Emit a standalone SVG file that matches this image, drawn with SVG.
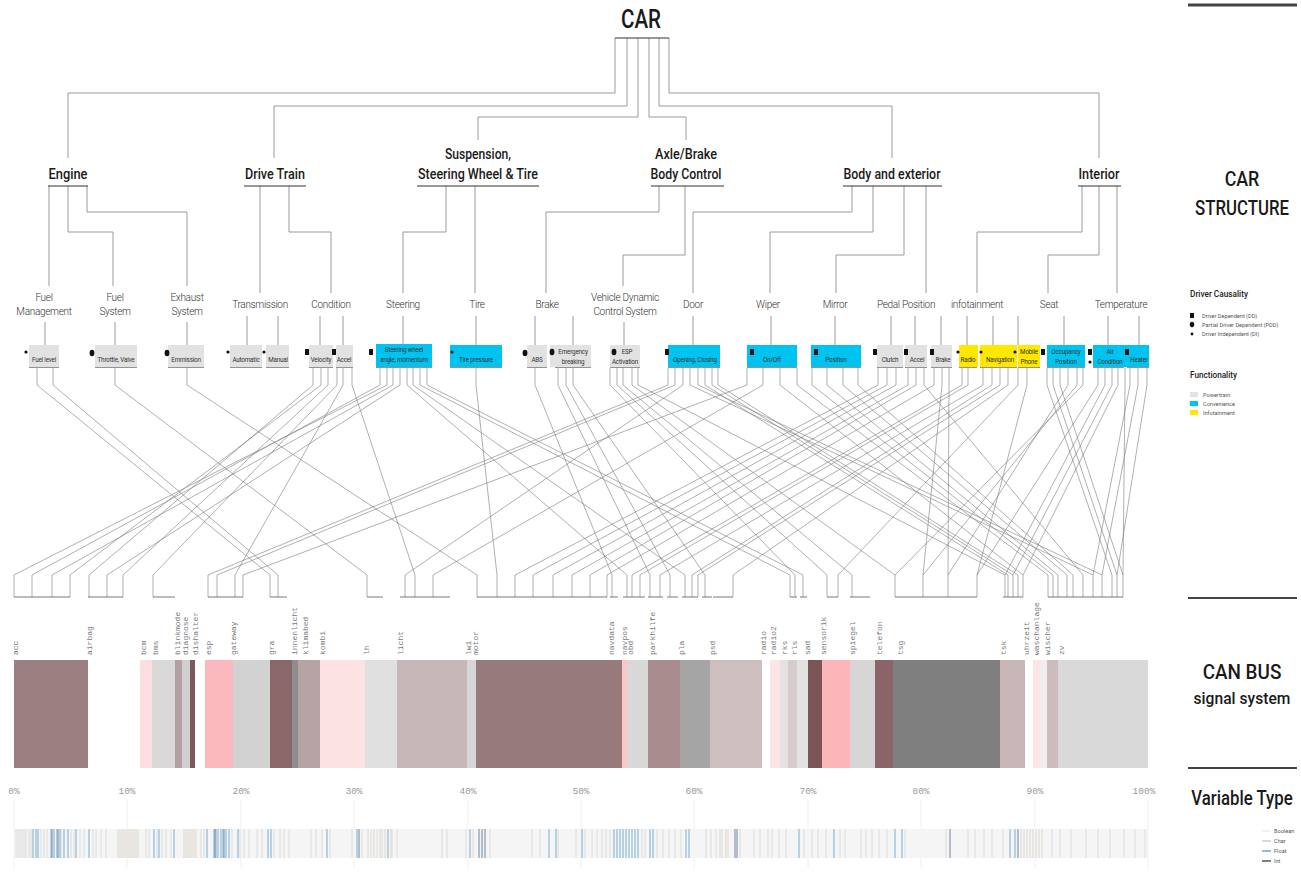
<svg xmlns="http://www.w3.org/2000/svg" width="1301" height="872" viewBox="0 0 1301 872">
<style>
.h{font-family:"Roboto","Liberation Sans",sans-serif;font-weight:500;fill:#1a1a1a;text-anchor:middle}
.l2{font-family:"Roboto","Liberation Sans",sans-serif;font-weight:300;font-size:10px;fill:#333;text-anchor:middle;letter-spacing:-0.3px}
.bt{font-family:"Roboto","Liberation Sans",sans-serif;font-size:6.3px;fill:#333;text-anchor:middle;letter-spacing:-0.2px}
.tree{fill:none;stroke:#9a9a9a;stroke-width:1}
.ul{stroke:#333;stroke-width:1}
.bul{stroke:#777;stroke-width:0.8}
.sp{fill:none;stroke:#7a7a7a;stroke-width:0.6}
.br{fill:none;stroke:#555;stroke-width:0.8}
.can{font-family:"Liberation Mono",monospace;font-size:8px;fill:#777}
.pct{font-family:"Liberation Mono",monospace;font-size:9.5px;fill:#9a9a9a;text-anchor:middle}
.lg{font-family:"Roboto","Liberation Sans",sans-serif;font-size:5.6px;fill:#555}
.lgt{font-family:"Roboto","Liberation Sans",sans-serif;font-weight:500;font-size:9px;fill:#222}
.pw{fill:#e2e2e2}.cv{fill:#00c4ef}.inf{fill:#ffe800}
.dk{fill:#111}
</style>

<!-- Top tree connectors -->
<g id="connectors-tree" class="tree">
<path d="M615 38 V93 H68 V158"/>
<path d="M627 38 V106 H274 V158"/>
<path d="M638 38 V117 H478 V140"/>
<path d="M649 38 V117 H686 V140"/>
<path d="M659 38 V106 H892 V158"/>
<path d="M669 38 V93 H1099 V158"/>
<path d="M49 186 V286"/>
<path d="M68 186 V232 H113 V286"/>
<path d="M87 186 V212 H187 V286"/>
<path d="M260 186 V293"/>
<path d="M289 186 V232 H331 V293"/>
<path d="M446 186 V232 H403 V293"/>
<path d="M475 186 V293"/>
<path d="M659 186 V212 H546 V293"/>
<path d="M685 186 V255 H623 V286"/>
<path d="M852 186 V212 H693 V293"/>
<path d="M873 186 V232 H770 V293"/>
<path d="M904 186 V255 H836 V293"/>
<path d="M926 186 V293"/>
<path d="M1082 186 V232 H977 V293"/>
<path d="M1099 186 V255 H1048 V293"/>
<path d="M1117 186 V293"/>
<path d="M45 322 V345 M115 322 V345 M187 322 V345 M247 316 V345 M278 316 V345 M320 316 V345 M343 316 V345 M403 316 V345 M476 316 V345 M535 316 V345 M573 316 V345 M624 322 V345 M693 316 V345 M771 316 V345 M835 316 V345 M891 316 V345 M915 316 V345 M941 316 V345 M967 316 V345 M993 316 V345 M1018 316 V345 M1064 316 V345 M1108 316 V345 M1139 316 V345"/>
</g>

<!-- Title -->
<g id="n-car">
<text class="h" x="641" y="28" font-size="26" textLength="40" lengthAdjust="spacingAndGlyphs">CAR</text>
<line class="ul" x1="615" y1="38" x2="669" y2="38"/>
</g>

<!-- Level 1 -->
<g id="n-engine"><text class="h" x="68" y="179" font-size="14" textLength="39" lengthAdjust="spacingAndGlyphs">Engine</text><line class="ul" x1="48" y1="186" x2="88" y2="186"/></g>
<g id="n-drivetrain"><text class="h" x="275" y="179" font-size="14" textLength="60" lengthAdjust="spacingAndGlyphs">Drive Train</text><line class="ul" x1="244" y1="186" x2="306" y2="186"/></g>
<g id="n-suspension"><text class="h" x="478" y="159" font-size="14" textLength="66" lengthAdjust="spacingAndGlyphs">Suspension,</text><text class="h" x="478" y="179" font-size="14" textLength="120" lengthAdjust="spacingAndGlyphs">Steering Wheel &amp; Tire</text><line class="ul" x1="417" y1="186" x2="539" y2="186"/></g>
<g id="n-axle"><text class="h" x="686" y="159" font-size="14" textLength="62" lengthAdjust="spacingAndGlyphs">Axle/Brake</text><text class="h" x="686" y="179" font-size="14" textLength="71" lengthAdjust="spacingAndGlyphs">Body Control</text><line class="ul" x1="651" y1="186" x2="724" y2="186"/></g>
<g id="n-body"><text class="h" x="892" y="179" font-size="14" textLength="97" lengthAdjust="spacingAndGlyphs">Body and exterior</text><line class="ul" x1="843" y1="186" x2="942" y2="186"/></g>
<g id="n-interior"><text class="h" x="1099" y="179" font-size="14" textLength="41" lengthAdjust="spacingAndGlyphs">Interior</text><line class="ul" x1="1078" y1="186" x2="1121" y2="186"/></g>

<!-- Level 2 -->
<g id="n-fuelmgmt"><text class="l2" x="44" y="301">Fuel</text><text class="l2" x="44" y="315">Management</text></g>
<g id="n-fuelsys"><text class="l2" x="115" y="301">Fuel</text><text class="l2" x="115" y="315">System</text></g>
<g id="n-exhaust"><text class="l2" x="187" y="301">Exhaust</text><text class="l2" x="187" y="315">System</text></g>
<g id="n-transmission"><text class="l2" x="260" y="308">Transmission</text></g>
<g id="n-condition"><text class="l2" x="331" y="308">Condition</text></g>
<g id="n-steering"><text class="l2" x="403" y="308">Steering</text></g>
<g id="n-tire"><text class="l2" x="477" y="308">Tire</text></g>
<g id="n-brake"><text class="l2" x="547" y="308">Brake</text></g>
<g id="n-vdcs"><text class="l2" x="625" y="301">Vehicle Dynamic</text><text class="l2" x="625" y="315">Control System</text></g>
<g id="n-door"><text class="l2" x="693" y="308">Door</text></g>
<g id="n-wiper"><text class="l2" x="768" y="308">Wiper</text></g>
<g id="n-mirror"><text class="l2" x="835" y="308">Mirror</text></g>
<g id="n-pedal"><text class="l2" x="906" y="308">Pedal Position</text></g>
<g id="n-infotainment"><text class="l2" x="977" y="308">infotainment</text></g>
<g id="n-seat"><text class="l2" x="1049" y="308">Seat</text></g>
<g id="n-temperature"><text class="l2" x="1121" y="308">Temperature</text></g>

<!-- Level 3 boxes -->
<g id="b-fuellevel"><rect class="pw" x="29" y="345" width="30" height="22"/><line class="bul" x1="29" y1="367.5" x2="59" y2="367.5"/><circle class="dk" cx="26" cy="352" r="1.6"/><text class="bt" x="44" y="362">Fuel level</text></g>
<g id="b-throttle"><rect class="pw" x="95" y="345" width="42" height="22"/><line class="bul" x1="95" y1="367.5" x2="137" y2="367.5"/><ellipse class="dk" cx="92" cy="353" rx="2.4" ry="3.2"/><text class="bt" x="116" y="362">Throttle, Valve</text></g>
<g id="b-emmission"><rect class="pw" x="168" y="345" width="36" height="22"/><line class="bul" x1="168" y1="367.5" x2="204" y2="367.5"/><ellipse class="dk" cx="167" cy="353" rx="2.4" ry="3.2"/><text class="bt" x="186" y="362">Emmission</text></g>
<g id="b-automatic"><rect class="pw" x="230" y="345" width="32" height="22"/><line class="bul" x1="230" y1="367.5" x2="262" y2="367.5"/><circle class="dk" cx="228" cy="352" r="1.6"/><text class="bt" x="246" y="362">Automatic</text></g>
<g id="b-manual"><rect class="pw" x="266" y="345" width="23" height="22"/><line class="bul" x1="266" y1="367.5" x2="289" y2="367.5"/><circle class="dk" cx="264" cy="352" r="1.6"/><text class="bt" x="278" y="362">Manual</text></g>
<g id="b-velocity"><rect class="pw" x="309" y="345" width="24" height="22"/><line class="bul" x1="309" y1="367.5" x2="333" y2="367.5"/><rect class="dk" x="305" y="349" width="4" height="6"/><text class="bt" x="321" y="362">Velocity</text></g>
<g id="b-accel1"><rect class="pw" x="336" y="345" width="17" height="22"/><line class="bul" x1="336" y1="367.5" x2="353" y2="367.5"/><rect class="dk" x="332" y="349" width="4" height="6"/><text class="bt" x="344" y="362">Accel</text></g>
<g id="b-steerwheel"><rect class="cv" x="376" y="344" width="56" height="23"/><line class="bul" x1="376" y1="367.5" x2="432" y2="367.5"/><rect class="dk" x="369" y="349" width="4" height="6"/><text class="bt" x="404" y="352">Steering wheel</text><text class="bt" x="404" y="362">angle, momentum</text></g>
<g id="b-tirepressure"><rect class="cv" x="450" y="345" width="52" height="22"/><line class="bul" x1="450" y1="367.5" x2="502" y2="367.5"/><circle class="dk" cx="452" cy="352" r="1.6"/><text class="bt" x="476" y="362">Tire pressure</text></g>
<g id="b-abs"><rect class="pw" x="527" y="345" width="20" height="22"/><line class="bul" x1="527" y1="367.5" x2="547" y2="367.5"/><ellipse class="dk" cx="525" cy="353" rx="2.4" ry="3.2"/><text class="bt" x="537" y="362">ABS</text></g>
<g id="b-emergency"><rect class="pw" x="550" y="345" width="41" height="22"/><line class="bul" x1="555" y1="367.5" x2="591" y2="367.5"/><ellipse class="dk" cx="552" cy="352" rx="2.4" ry="3.2"/><text class="bt" x="573" y="354">Emergency</text><text class="bt" x="573" y="364">breaking</text></g>
<g id="b-esp"><rect class="pw" x="610" y="345" width="30" height="22"/><line class="bul" x1="610" y1="367.5" x2="640" y2="367.5"/><ellipse class="dk" cx="614" cy="352" rx="2.4" ry="3.2"/><text class="bt" x="627" y="354">ESP</text><text class="bt" x="625" y="364">Activation</text></g>
<g id="b-opening"><rect class="cv" x="668" y="345" width="52" height="22"/><line class="bul" x1="668" y1="367.5" x2="720" y2="367.5"/><rect class="dk" x="665" y="349" width="4" height="6"/><text class="bt" x="695" y="362">Opening, Closing</text></g>
<g id="b-onoff"><rect class="cv" x="747" y="345" width="50" height="22"/><line class="bul" x1="747" y1="367.5" x2="797" y2="367.5"/><rect class="dk" x="750" y="349" width="4" height="6"/><text class="bt" x="772" y="362">On/Off</text></g>
<g id="b-position"><rect class="cv" x="811" y="345" width="50" height="22"/><line class="bul" x1="811" y1="367.5" x2="861" y2="367.5"/><rect class="dk" x="814" y="349" width="4" height="6"/><text class="bt" x="836" y="362">Position</text></g>
<g id="b-clutch"><rect class="pw" x="877" y="345" width="26" height="22"/><line class="bul" x1="877" y1="367.5" x2="903" y2="367.5"/><rect class="dk" x="873" y="349" width="4" height="6"/><text class="bt" x="890" y="362">Clutch</text></g>
<g id="b-accel2"><rect class="pw" x="905" y="345" width="22" height="22"/><line class="bul" x1="905" y1="367.5" x2="927" y2="367.5"/><rect class="dk" x="904" y="349" width="4" height="6"/><text class="bt" x="917" y="362">Accel</text></g>
<g id="b-brake"><rect class="pw" x="931" y="345" width="21" height="22"/><line class="bul" x1="931" y1="367.5" x2="952" y2="367.5"/><rect class="dk" x="930" y="349" width="4" height="6"/><text class="bt" x="943" y="362">Brake</text></g>
<g id="b-radio"><rect class="inf" x="959" y="345" width="19" height="22"/><line class="bul" x1="959" y1="367.5" x2="977" y2="367.5"/><circle class="dk" cx="958" cy="352" r="1.6"/><text class="bt" x="968" y="362">Radio</text></g>
<g id="b-navigation"><rect class="inf" x="980" y="345" width="37" height="22"/><line class="bul" x1="980" y1="367.5" x2="1017" y2="367.5"/><circle class="dk" cx="981" cy="352" r="1.6"/><text class="bt" x="1000" y="362">Navigation</text></g>
<g id="b-mobile"><rect class="inf" x="1018" y="345" width="22" height="22"/><line class="bul" x1="1018" y1="367.5" x2="1040" y2="367.5"/><circle class="dk" cx="1015" cy="352" r="1.6"/><text class="bt" x="1029" y="354">Mobile</text><text class="bt" x="1029" y="364">Phone</text></g>
<g id="b-occupancy"><rect class="cv" x="1047" y="345" width="38" height="22"/><line class="bul" x1="1047" y1="367.5" x2="1085" y2="367.5"/><rect class="dk" x="1041" y="349" width="4" height="6"/><text class="bt" x="1066" y="354">Occupancy</text><text class="bt" x="1066" y="364">Position</text></g>
<g id="b-aircondition"><rect class="cv" x="1093" y="345" width="32" height="22"/><line class="bul" x1="1093" y1="367.5" x2="1124" y2="367.5"/><rect class="dk" x="1088" y="349" width="4" height="6"/><circle class="dk" cx="1090" cy="362" r="1.6"/><text class="bt" x="1110" y="354">Air</text><text class="bt" x="1110" y="364">Condition</text></g>
<g id="b-heater"><rect class="cv" x="1125" y="345" width="24" height="22"/><line class="bul" x1="1127" y1="367.5" x2="1149" y2="367.5"/><rect class="dk" x="1125" y="349" width="4" height="6"/><text class="bt" x="1139" y="362">Heater</text></g>

<!-- Signal connectors -->
<g id="connectors-signals" class="sp">
<path d="M387 368V385L14 575V597M380 368V385L32 575V597M393 368V385L52 575V597M321 368V385L70 575V597"/>
<path d="M313 368V385L89 575V597M400 368V385L107 575V597M328 368V385L123 575V597M337 368V385L153 575V597"/>
<path d="M668 368V385L208 575V597M675 368V385L217 575V597M343 368V385L235 575V597M747 368V385L243 575V597"/>
<path d="M37 368V385L270 575V597M53 368V385L278 575V597M115 368V385L367 575V597"/>
<path d="M683 368V385L405 575V597M352 368V385L415 575V597M763 368V385L433 575V597"/>
<path d="M187 368V385L477 575V597M476 368V385L497 575V597M878 368V385L515 575V597M887 368V385L533 575V597M896 368V385L553 575V597M908 368V385L572 575V597M916 368V385L590 575V597M934 368V385L607 575V597"/>
<path d="M535 368V385L612 575V597M407 368V385L627 575V597M962 368V385L632 575V597M968 368V385L640 575V597"/>
<path d="M558 368V385L650 575V597M983 368V385L660 575V597M566 368V385L670 575V597"/>
<path d="M413 368V385L685 575V597M992 368V385L692 575V597M1000 368V385L698 575V597M573 368V385L705 575V597M1008 368V385L733 575V597"/>
<path d="M420 368V385L790 575V597M610 368V385L795 575V597M427 368V385L803 575V597"/>
<path d="M617 368V385L827 575V597M1018 368V385L838 575V597M623 368V385L852 575V597"/>
<path d="M632 368V385L895 575V597M942 368V385L923 575V597M949 368V385L948 575V597M1027 368V385L977 575V597"/>
<path d="M638 368V385L1005 575V597M705 368V385L1008 575V597M712 368V385L1013 575V597M718 368V385L1018 575V597M780 368V385L1023 575V597"/>
<path d="M797 368V385L1048 575V597M812 368V385L1053 575V597M827 368V385L1058 575V597M843 368V385L1067 575V597M858 368V385L1073 575V597M924 368V385L1083 575V597"/>
<path d="M690 368V385L1093 575V597M698 368V385L1102 575V597M1047 368V385L1112 575V597M1053 368V385L1117 575V597M1060 368V385L1123 575V597"/>
<path d="M1068 368V385L948 575M1077 368V385L923 575M1083 368V385L895 575M1098 368V385L977 575M1105 368V385L1005 575M1112 368V385L1013 575M1118 368V385L1023 575M1125 368V385L1123 575M1130 368V385L1093 575M1138 368V385L1102 575M1147 368V385L1117 575"/>
</g>
<g id="brackets" class="br">
<path d="M14 597H70M88 597H123M153 597H175M208 597H243M270 597H287M367 597H383M400 597H450M477 597H607M610 597H618M623 597H645M648 597H663M667 597H678M682 597H698M702 597H712M713 597H733M790 597H797M800 597H807M827 597H838M850 597H870M895 597H977M1003 597H1023M1048 597H1123"/>
</g>

<!-- CAN bus bars -->
<g id="canbus-bars">
<rect x="14" y="660" width="74" height="108" fill="#9c7f80"/>
<rect x="140" y="660" width="12" height="108" fill="#fcdde0"/>
<rect x="152" y="660" width="23" height="108" fill="#d9d9d9"/>
<rect x="175" y="660" width="7" height="108" fill="#b5a0a1"/>
<rect x="182" y="660" width="8" height="108" fill="#d0d0d0"/>
<rect x="190" y="660" width="5" height="108" fill="#7a5a5c"/>
<rect x="205" y="660" width="28" height="108" fill="#fbb9bd"/>
<rect x="233" y="660" width="37" height="108" fill="#d2d2d2"/>
<rect x="270" y="660" width="22" height="108" fill="#8a6769"/>
<rect x="292" y="660" width="6" height="108" fill="#8e8e8e"/>
<rect x="298" y="660" width="22" height="108" fill="#b7a3a4"/>
<rect x="320" y="660" width="45" height="108" fill="#fde2e4"/>
<rect x="365" y="660" width="32" height="108" fill="#e0e0e0"/>
<rect x="397" y="660" width="70" height="108" fill="#c8b7b8"/>
<rect x="467" y="660" width="9" height="108" fill="#d6d6d6"/>
<rect x="476" y="660" width="146" height="108" fill="#977a7b"/>
<rect x="622" y="660" width="5" height="108" fill="#fcc5c8"/>
<rect x="627" y="660" width="21" height="108" fill="#d8d8d8"/>
<rect x="648" y="660" width="32" height="108" fill="#a88c8e"/>
<rect x="680" y="660" width="30" height="108" fill="#a5a5a5"/>
<rect x="710" y="660" width="52" height="108" fill="#cdbebf"/>
<rect x="770" y="660" width="10" height="108" fill="#fde4e6"/>
<rect x="780" y="660" width="8" height="108" fill="#e3e3e3"/>
<rect x="788" y="660" width="9" height="108" fill="#d7cbcc"/>
<rect x="797" y="660" width="11" height="108" fill="#e2e2e2"/>
<rect x="808" y="660" width="14" height="108" fill="#7a5456"/>
<rect x="822" y="660" width="28" height="108" fill="#fcb5b9"/>
<rect x="850" y="660" width="25" height="108" fill="#d6d6d6"/>
<rect x="875" y="660" width="18" height="108" fill="#8a6466"/>
<rect x="893" y="660" width="107" height="108" fill="#7f7f7f"/>
<rect x="1000" y="660" width="25" height="108" fill="#c9b6b7"/>
<rect x="1033" y="660" width="7" height="108" fill="#fde4e6"/>
<rect x="1040" y="660" width="7" height="108" fill="#eeeeee"/>
<rect x="1047" y="660" width="11" height="108" fill="#cdbcbd"/>
<rect x="1058" y="660" width="90" height="108" fill="#d9d9d9"/>
</g>

<!-- CAN bus labels -->
<g id="canbus-labels" class="can">
<text transform="translate(18 655) rotate(-90)">acc</text>
<text transform="translate(92 655) rotate(-90)">airbag</text>
<text transform="translate(146 655) rotate(-90)">bcm</text>
<text transform="translate(158 655) rotate(-90)">bms</text>
<text transform="translate(180 655) rotate(-90)">blinkmode</text>
<text transform="translate(188 655) rotate(-90)">diagnose</text>
<text transform="translate(198 655) rotate(-90)">dishalter</text>
<text transform="translate(211 655) rotate(-90)">esp</text>
<text transform="translate(236 655) rotate(-90)">gateway</text>
<text transform="translate(274 655) rotate(-90)">gra</text>
<text transform="translate(297 655) rotate(-90)">innenlicht</text>
<text transform="translate(308 655) rotate(-90)">klimabed</text>
<text transform="translate(325 655) rotate(-90)">kombi</text>
<text transform="translate(369 655) rotate(-90)">lh</text>
<text transform="translate(403 655) rotate(-90)">licht</text>
<text transform="translate(471 655) rotate(-90)">lwi</text>
<text transform="translate(478 655) rotate(-90)">motor</text>
<text transform="translate(614 655) rotate(-90)">navdata</text>
<text transform="translate(627 655) rotate(-90)">navpos</text>
<text transform="translate(633 655) rotate(-90)">obd</text>
<text transform="translate(655 655) rotate(-90)">parkhilfe</text>
<text transform="translate(684 655) rotate(-90)">pla</text>
<text transform="translate(715 655) rotate(-90)">psd</text>
<text transform="translate(766 655) rotate(-90)">radio</text>
<text transform="translate(776 655) rotate(-90)">radio2</text>
<text transform="translate(787 655) rotate(-90)">rks</text>
<text transform="translate(797 655) rotate(-90)">rls</text>
<text transform="translate(810 655) rotate(-90)">sad</text>
<text transform="translate(826 655) rotate(-90)">sensorik</text>
<text transform="translate(855 655) rotate(-90)">spiegel</text>
<text transform="translate(882 655) rotate(-90)">telefon</text>
<text transform="translate(903 655) rotate(-90)">tsg</text>
<text transform="translate(1006 655) rotate(-90)">tsk</text>
<text transform="translate(1029 655) rotate(-90)">uhrzeit</text>
<text transform="translate(1039 655) rotate(-90)">waschanlage</text>
<text transform="translate(1050 655) rotate(-90)">wischer</text>
<text transform="translate(1064 655) rotate(-90)">zv</text>
</g>

<!-- Percent scale -->
<g id="percent-scale">
<path d="M14 800V868M127 800V868M241 800V868M354 800V868M468 800V868M581 800V868M694 800V868M808 800V868M921 800V868M1035 800V868M1148 800V868" stroke="#f0f0f0" stroke-width="1"/>
<text class="pct" x="14" y="794">0%</text>
<text class="pct" x="127" y="794">10%</text>
<text class="pct" x="241" y="794">20%</text>
<text class="pct" x="354" y="794">30%</text>
<text class="pct" x="468" y="794">40%</text>
<text class="pct" x="581" y="794">50%</text>
<text class="pct" x="694" y="794">60%</text>
<text class="pct" x="808" y="794">70%</text>
<text class="pct" x="921" y="794">80%</text>
<text class="pct" x="1035" y="794">90%</text>
<text class="pct" x="1144" y="794">100%</text>
</g>

<!-- Variable type barcode -->
<g id="variable-type">
<rect x="14" y="829" width="1134" height="29" fill="#f5f5f5"/>
<path fill="none" stroke="#dcdcdc" stroke-width="1" d="M16 829V858M18 829V858M20 829V858M22 829V858M24 829V858M26 829V858M29 829V858M31 829V858M41 829V858M44 829V858M47 829V858M61 829V858M71 829V858M74 829V858M80 829V858M84 829V858M93 829V858M96 829V858M101 829V858M106 829V858M146 829V858M149 829V858M157 829V858M162 829V858M166 829V858M171 829V858M201 829V858M204 829V858M232 829V858M240 829V858M244 829V858M249 829V858M257 829V858M262 829V858M274 829V858M284 829V858M289 829V858M311 829V858M316 829V858M322 829V858M330 829V858M352 829V858M362 829V858M371 829V858M377 829V858M382 829V858M392 829V858M397 829V858M442 829V858M447 829V858M466 829V858M473 829V858M490 829V858M532 829V858M540 829V858M558 829V858M576 829V858M585 829V858M592 829V858M597 829V858M602 829V858M606 829V858M610 829V858M642 829V858M645 829V858M657 829V858M663 829V858M669 829V858M675 829V858M681 829V858M706 829V858M711 829V858M716 829V858M722 829V858M728 829V858M740 829V858M754 829V858M760 829V858M768 829V858M772 829V858M779 829V858M786 829V858M804 829V858M812 829V858M818 829V858M826 829V858M840 829V858M845 829V858M861 829V858M866 829V858M872 829V858M879 829V858M887 829V858M905 829V858M946 829V858M968 829V858M975 829V858M984 829V858M992 829V858M1003 829V858M1052 829V858M1060 829V858M1071 829V858M1086 829V858M1098 829V858M1110 829V858M1124 829V858M1135 829V858M1145 829V858"/>
<path fill="none" stroke="#ddd5ca" stroke-width="1" d="M118 829V858M120 829V858M122 829V858M124 829V858M126 829V858M128 829V858M130 829V858M132 829V858M134 829V858M136 829V858M138 829V858M184 829V858M186 829V858M188 829V858M190 829V858M192 829V858M194 829V858M196 829V858M280 829V858M368 829V858M374 829V858M380 829V858M385 829V858M391 829V858M720 829V858M726 829V858M1021 829V858M1024 829V858M1027 829V858M1030 829V858M1033 829V858M1036 829V858M1039 829V858M1042 829V858"/>
<path fill="none" stroke="#8dbad8" stroke-width="1.2" d="M33 829V858M36 829V858M38 829V858M51 829V858M54 829V858M57 829V858M60 829V858M64 829V858M68 829V858M76 829V858M89 829V858M154 829V858M159 829V858M174 829V858M207 829V858M214 829V858M216 829V858M218 829V858M221 829V858M223 829V858M226 829V858M229 829V858M238 829V858M268 829V858M271 829V858M327 829V858M357 829V858M388 829V858M470 829V858M549 829V858M556 829V858M582 829V858M614 829V858M617 829V858M620 829V858M623 829V858M626 829V858M629 829V858M632 829V858M635 829V858M638 829V858M650 829V858M653 829V858M686 829V858M689 829V858M799 829V858M834 829V858M895 829V858M902 829V858M1010 829V858M1015 829V858"/>
<path fill="none" stroke="#6f86a0" stroke-width="1" d="M52 829V858M58 829V858M215 829V858M224 829V858M359 829V858M479 829V858M482 829V858M485 829V858M735 829V858M737 829V858M950 829V858M1018 829V858"/>
</g>

<!-- Right side panel -->
<g id="side-car-structure">
<line x1="1188" y1="5" x2="1297" y2="5" stroke="#444" stroke-width="3"/>
<text class="h" font-size="21" transform="translate(1242 186) scale(0.85 1)">CAR</text>
<text class="h" font-size="21" transform="translate(1242 215) scale(0.8 1)">STRUCTURE</text>
</g>
<g id="legend-causality">
<text class="lgt" x="1190" y="297" textLength="58" lengthAdjust="spacingAndGlyphs">Driver Causality</text>
<rect class="dk" x="1190" y="313" width="4" height="5"/><text class="lg" x="1202" y="318">Driver Dependent (DD)</text>
<ellipse class="dk" cx="1192" cy="324.5" rx="2.2" ry="2.8"/><text class="lg" x="1202" y="327">Partial Driver Dependent (PDD)</text>
<circle class="dk" cx="1192" cy="334" r="1.4"/><text class="lg" x="1202" y="336">Driver Independent (DI)</text>
</g>
<g id="legend-functionality">
<text class="lgt" x="1190" y="378" textLength="47" lengthAdjust="spacingAndGlyphs">Functionality</text>
<rect x="1190" y="392" width="8" height="5" fill="#e2e2e2"/><text class="lg" x="1203" y="397">Powertrain</text>
<rect x="1190" y="401" width="8" height="5" fill="#00c4ef"/><text class="lg" x="1203" y="406">Convenience</text>
<rect x="1190" y="410" width="8" height="5" fill="#ffe800"/><text class="lg" x="1203" y="415">Infotainment</text>
</g>
<g id="side-canbus">
<line x1="1188" y1="598" x2="1297" y2="598" stroke="#444" stroke-width="2"/>
<text class="h" font-size="21" transform="translate(1242 679) scale(0.9 1)">CAN BUS</text>
<text class="h" font-size="17" font-weight="400" transform="translate(1242 704) scale(0.92 1)">signal system</text>
</g>
<g id="side-variable">
<line x1="1188" y1="768" x2="1297" y2="768" stroke="#444" stroke-width="2"/>
<text class="h" font-size="21" transform="translate(1242 805) scale(0.8 1)">Variable Type</text>
<line x1="1262" y1="831" x2="1271" y2="831" stroke="#eee" stroke-width="1.5"/><text class="lg" x="1274" y="833">Boolean</text>
<line x1="1262" y1="841" x2="1271" y2="841" stroke="#ccc" stroke-width="1.5"/><text class="lg" x="1274" y="843">Char</text>
<line x1="1262" y1="851" x2="1271" y2="851" stroke="#6fa9cc" stroke-width="1.5"/><text class="lg" x="1274" y="853">Float</text>
<line x1="1262" y1="861" x2="1271" y2="861" stroke="#555" stroke-width="1.5"/><text class="lg" x="1274" y="863">Int</text>
</g>
</svg>
